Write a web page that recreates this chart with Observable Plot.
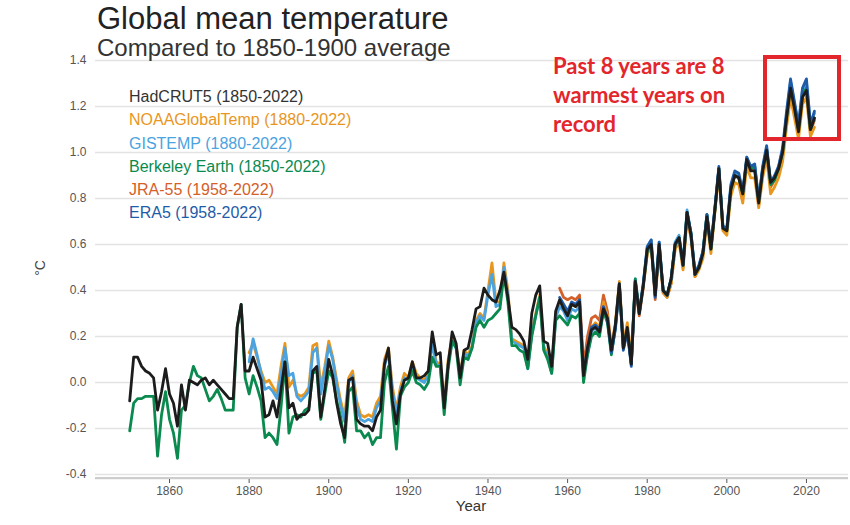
<!DOCTYPE html>
<html><head><meta charset="utf-8">
<script src="https://cdn.jsdelivr.net/npm/d3@7"></script>
<script src="https://cdn.jsdelivr.net/npm/@observablehq/plot@0.6"></script>
<style>
body{margin:0;background:#fff;}
#wrap{position:relative;width:850px;height:525px;overflow:hidden;font-family:"Liberation Sans",Arial,sans-serif;}
#wrap svg{position:absolute;left:0;top:0;}
.title{position:absolute;left:97px;top:3px;font-size:31px;line-height:31px;color:#222;white-space:nowrap;}
.subtitle{position:absolute;left:97px;top:36px;font-size:24px;line-height:24px;color:#333;white-space:nowrap;}
.legend{position:absolute;left:129px;top:85px;font-size:16px;line-height:23.3px;white-space:nowrap;}
.note{position:absolute;left:553px;top:51px;font-family:Lato,sans-serif;font-weight:700;font-size:22px;line-height:29px;color:#e3262b;white-space:nowrap;}
.box{position:absolute;left:763px;top:55px;width:70px;height:78px;border:4.5px solid #e3262b;}
.ylab{position:absolute;left:20px;top:259px;width:40px;text-align:center;font-size:14px;line-height:18px;color:#444;transform:rotate(-90deg);}
.xlab{position:absolute;left:431px;top:497px;width:80px;text-align:center;font-size:15px;line-height:18px;color:#333;}
</style></head>
<body>
<div id="wrap">
  <div id="chart"></div>
  <div class="title">Global mean temperature</div>
  <div class="subtitle">Compared to 1850-1900 average</div>
  <div class="legend" id="legend"></div>
  <div class="note">Past 8 years are 8<br>warmest years on<br>record</div>
  <div class="box"></div>
  <div class="ylab">°C</div>
  <div class="xlab">Year</div>
</div>
<script>
// ---- Data (anomaly °C relative to 1850-1900) ----
const hadcrut5 = [
 -0.08,0.11,0.11,0.07,0.05,0.04,0.02,-0.12,-0.04,0.06,
 -0.05,-0.09,-0.19,-0.01,-0.12,0.01,0.00,-0.01,0.01,0.02,
 -0.01,0.01,-0.01,-0.03,-0.05,-0.07,-0.07,0.24,0.34,0.05,
 0.05,0.11,0.06,0.01,-0.15,-0.14,-0.08,-0.15,-0.03,0.09,
 -0.11,-0.09,-0.16,-0.14,-0.14,-0.12,0.05,0.07,-0.15,-0.03,
 0.10,0.03,-0.09,-0.18,-0.24,0.01,0.02,-0.16,-0.18,-0.19,
 -0.19,-0.21,-0.15,-0.12,0.08,0.15,-0.08,-0.18,-0.05,0.01,
 0.02,0.09,0.02,0.02,0.03,0.05,0.22,0.12,0.13,-0.11,
 0.08,0.22,0.17,0.02,0.14,0.15,0.23,0.32,0.33,0.41,
 0.38,0.36,0.35,0.40,0.48,0.37,0.24,0.23,0.21,0.18,
 0.10,0.30,0.38,0.42,0.18,0.17,0.07,0.31,0.36,0.32,
 0.29,0.34,0.33,0.35,0.03,0.15,0.23,0.24,0.22,0.32,
 0.28,0.14,0.25,0.43,0.15,0.24,0.08,0.44,0.30,0.42,
 0.58,0.60,0.38,0.60,0.40,0.38,0.45,0.60,0.63,0.51,
 0.74,0.64,0.47,0.50,0.56,0.72,0.58,0.75,0.93,0.67,
 0.66,0.84,0.90,0.89,0.82,0.97,0.92,0.92,0.78,0.92,
 1.01,0.87,0.89,0.93,1.00,1.15,1.28,1.19,1.09,1.24,
 1.27,1.10,1.15
];
const berkeley = [
 -0.21,-0.09,-0.07,-0.07,-0.06,-0.06,-0.06,-0.32,-0.14,-0.04,
 -0.16,-0.22,-0.33,-0.12,-0.10,0.00,0.07,0.03,0.02,-0.03,
 -0.08,-0.06,-0.03,-0.07,-0.12,-0.12,-0.12,0.24,0.34,0.02,
 -0.05,0.03,-0.02,-0.08,-0.24,-0.22,-0.24,-0.27,-0.11,0.09,
 -0.22,-0.15,-0.14,-0.15,-0.12,-0.11,0.04,0.05,-0.16,-0.05,
 0.05,0.02,-0.08,-0.15,-0.26,-0.04,-0.02,-0.21,-0.21,-0.24,
 -0.22,-0.27,-0.24,-0.24,0.00,0.07,-0.11,-0.29,-0.06,-0.02,
 0.00,0.05,0.00,-0.01,-0.03,0.00,0.11,0.07,0.07,-0.14,
 0.06,0.18,0.15,-0.01,0.11,0.10,0.15,0.24,0.27,0.24,
 0.27,0.28,0.30,0.32,0.47,0.35,0.16,0.16,0.14,0.13,
 0.06,0.20,0.29,0.37,0.14,0.10,0.04,0.27,0.29,0.27,
 0.25,0.29,0.28,0.30,0.00,0.12,0.20,0.22,0.20,0.31,
 0.26,0.12,0.24,0.42,0.15,0.23,0.08,0.45,0.30,0.42,
 0.57,0.60,0.38,0.60,0.40,0.38,0.45,0.60,0.63,0.51,
 0.74,0.65,0.47,0.50,0.57,0.73,0.58,0.75,0.93,0.68,
 0.66,0.84,0.90,0.89,0.82,0.97,0.93,0.94,0.79,0.93,
 1.01,0.86,0.88,0.93,1.00,1.15,1.29,1.20,1.10,1.25,
 1.28,1.10,1.15
];
const noaa = [
 0.13,0.17,0.11,0.05,0.00,0.01,-0.02,-0.05,0.07,0.17,
 -0.02,0.01,-0.05,-0.06,-0.05,-0.02,0.16,0.17,-0.02,0.07,
 0.18,0.11,0.01,-0.08,-0.15,0.02,0.05,-0.08,-0.14,-0.15,
 -0.14,-0.15,-0.09,-0.06,0.10,0.15,-0.02,-0.12,-0.02,0.04,
 0.02,0.09,0.04,0.02,0.01,0.04,0.19,0.09,0.08,-0.09,
 0.10,0.19,0.16,0.04,0.14,0.12,0.16,0.27,0.30,0.28,
 0.40,0.52,0.35,0.35,0.52,0.40,0.19,0.18,0.17,0.16,
 0.07,0.22,0.30,0.38,0.16,0.12,0.05,0.29,0.35,0.33,
 0.29,0.34,0.33,0.34,0.05,0.14,0.24,0.26,0.24,0.35,
 0.29,0.15,0.26,0.44,0.17,0.26,0.11,0.44,0.31,0.42,
 0.56,0.59,0.39,0.58,0.39,0.37,0.43,0.58,0.61,0.49,
 0.71,0.63,0.46,0.49,0.54,0.70,0.56,0.74,0.91,0.66,
 0.64,0.81,0.87,0.86,0.78,0.94,0.89,0.89,0.76,0.89,
 0.98,0.82,0.85,0.89,0.96,1.11,1.24,1.15,1.06,1.21,
 1.24,1.07,1.11
];
const gistemp = [
 0.09,0.19,0.12,0.04,-0.03,-0.02,-0.04,-0.07,0.03,0.15,
 0.03,0.04,-0.06,-0.08,-0.06,-0.04,0.13,0.15,-0.05,0.05,
 0.16,0.10,-0.01,-0.10,-0.17,0.00,0.03,-0.10,-0.16,-0.17,
 -0.16,-0.17,-0.11,-0.08,0.07,0.13,-0.04,-0.13,-0.04,0.02,
 0.01,0.08,0.02,0.01,0.00,0.03,0.17,0.08,0.07,-0.10,
 0.08,0.18,0.15,0.03,0.13,0.11,0.15,0.26,0.29,0.27,
 0.38,0.47,0.33,0.34,0.50,0.38,0.18,0.17,0.16,0.15,
 0.06,0.21,0.29,0.37,0.15,0.11,0.04,0.28,0.33,0.31,
 0.27,0.32,0.31,0.33,0.03,0.12,0.22,0.24,0.21,0.32,
 0.27,0.13,0.24,0.43,0.16,0.23,0.09,0.45,0.31,0.43,
 0.59,0.62,0.39,0.61,0.40,0.38,0.45,0.61,0.64,0.52,
 0.75,0.65,0.48,0.51,0.57,0.73,0.59,0.76,0.93,0.68,
 0.67,0.85,0.91,0.90,0.83,0.98,0.93,0.94,0.79,0.93,
 1.02,0.87,0.89,0.94,1.01,1.16,1.31,1.21,1.12,1.27,
 1.30,1.13,1.17
];
const jra55 = [
 0.41,0.37,
 0.36,0.37,0.36,0.38,0.07,0.20,0.28,0.29,0.27,0.38,
 0.31,0.15,0.25,0.43,0.15,0.22,0.08,0.42,0.29,0.41,
 0.56,0.60,0.36,0.58,0.39,0.37,0.43,0.58,0.62,0.50,
 0.73,0.63,0.46,0.50,0.56,0.73,0.58,0.75,0.92,0.67,
 0.66,0.84,0.90,0.89,0.81,0.97,0.92,0.93,0.77,0.92,
 1.01,0.85,0.88,0.93,1.00,1.16,1.29,1.19,1.09,1.25,
 1.28,1.09,1.14
];
const era5 = [
 0.37,0.34,
 0.31,0.35,0.34,0.36,0.04,0.15,0.24,0.25,0.23,0.33,
 0.28,0.13,0.23,0.42,0.14,0.22,0.07,0.44,0.30,0.43,
 0.59,0.62,0.37,0.61,0.40,0.38,0.45,0.60,0.63,0.51,
 0.74,0.65,0.47,0.51,0.57,0.73,0.59,0.76,0.94,0.68,
 0.67,0.86,0.92,0.91,0.83,0.98,0.94,0.95,0.79,0.94,
 1.03,0.87,0.90,0.94,1.02,1.18,1.32,1.22,1.12,1.28,
 1.32,1.12,1.18
];
const seriesNames  = ["HadCRUT5", "NOAAGlobalTemp", "GISTEMP", "Berkeley Earth", "JRA-55", "ERA5"];
const seriesRanges = ["1850-2022", "1880-2022", "1880-2022", "1850-2022", "1958-2022", "1958-2022"];
const seriesStarts = [1850, 1880, 1880, 1850, 1958, 1958];
const seriesValues = [hadcrut5, noaa, gistemp, berkeley, jra55, era5];
const seriesColors = ["#1c1c1c", "#e8961e", "#4ba3e0", "#0a8a4e", "#d4602a", "#1f5ca8"];
const legendColors = ["#333333", "#e8961e", "#4ba3e0", "#0a8a4e", "#d4602a", "#1f5ca8"];
const xTicks = [1860, 1880, 1900, 1920, 1940, 1960, 1980, 2000, 2020];
const yTicks = [-0.4, -0.2, 0.0, 0.2, 0.4, 0.6, 0.8, 1.0, 1.2, 1.4];
const drawOrder = [4, 1, 2, 3, 5, 0];

// ---- Build rows ----
const rowsFor = i => seriesValues[i].map((v, k) => ({series: seriesNames[i], year: seriesStarts[i] + k, value: v}));

const lineMarks = drawOrder.map(i => Plot.line(rowsFor(i), {
  x: "year", y: "value", stroke: seriesColors[i], strokeWidth: 2.8,
  strokeLinejoin: "round", strokeLinecap: "round"
}));

const chart = Plot.plot({
  width: 850, height: 525,
  marginTop: 60, marginBottom: 46, marginLeft: 95, marginRight: 2,
  x: {domain: [1841.41, 2030.56]},
  y: {domain: [yTicks[0] - 5 / 230, yTicks[yTicks.length - 1]]},
  style: {fontFamily: "'Liberation Sans', Arial, sans-serif", background: "transparent", overflow: "visible"},
  marks: [
    Plot.gridY(yTicks, {stroke: "#e3e3e3", strokeOpacity: 1, strokeWidth: 1.6}),
    Plot.ruleY([yTicks[0]], {dy: 3.6, stroke: "#cdcdcd", strokeWidth: 2.2}),
    Plot.axisY(yTicks, {tickSize: 0, tickPadding: 9, tickFormat: d => d.toFixed(1), fontSize: 12, color: "#555", label: null}),
    Plot.axisX(xTicks, {tickSize: 4, tickPadding: 3, tickFormat: d => String(d), fontSize: 12, color: "#555", label: null}),
    ...lineMarks
  ]
});
document.getElementById("chart").appendChild(chart);

// legend
const legend = document.getElementById("legend");
seriesNames.forEach((n, i) => {
  const d = document.createElement("div");
  d.textContent = `${n} (${seriesRanges[i]})`;
  d.style.color = legendColors[i];
  legend.appendChild(d);
});
</script>
</body></html>
